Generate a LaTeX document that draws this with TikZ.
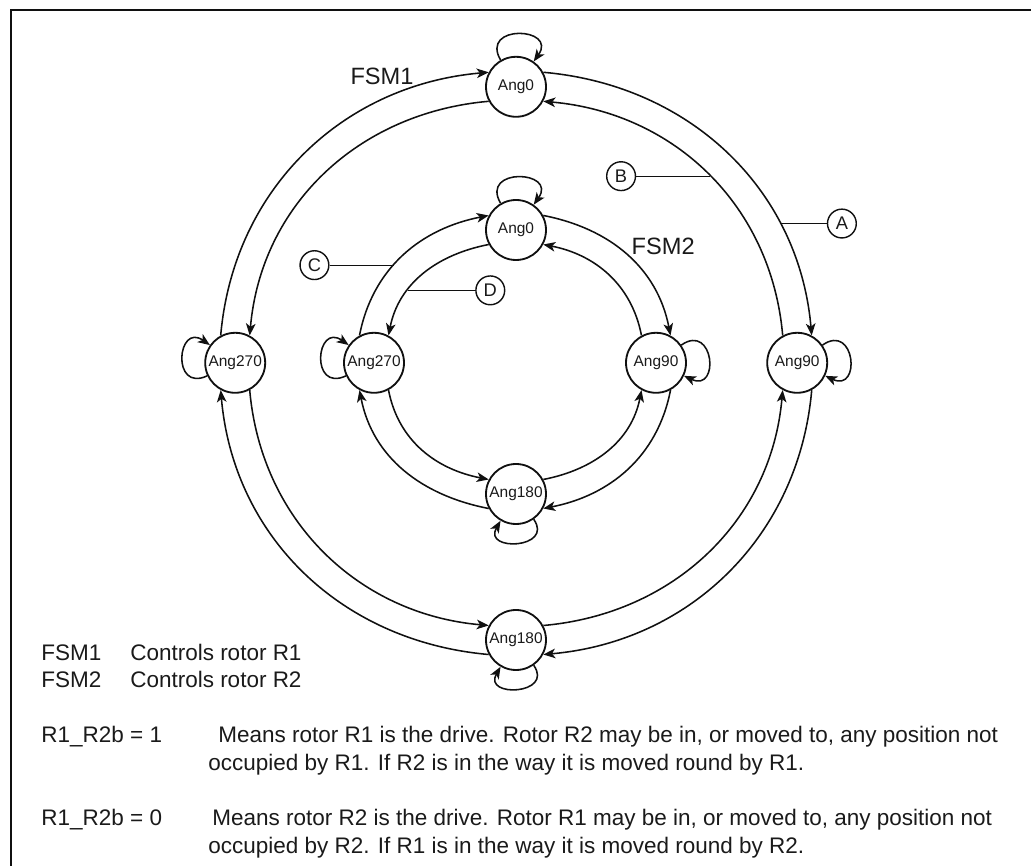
\documentclass[tikz,border=0pt]{standalone}
\usepackage{fontspec}
\setmainfont{Liberation Sans}
\usepackage{tikz}
\usetikzlibrary{arrows.meta, positioning}
\definecolor{fsmInk}{HTML}{101010}
\definecolor{fsmText}{HTML}{1A1A1A}

\begin{document}
\begin{tikzpicture}[
    state/.style={circle, draw=fsmInk, line width=1.3pt, fill=white, minimum size=1.5cm, inner sep=0pt, font=\fontsize{11}{12}\selectfont, text=fsmText},
    trans/.style={-{Stealth[length=3mm, width=2.4mm, inset=0.8mm]}, line width=1.1pt, draw=fsmInk},
    tag/.style={circle, draw=fsmInk, line width=1pt, fill=white, minimum size=0.72cm, inner sep=0pt, font=\fontsize{13}{14}\selectfont, text=fsmText},
    tagline/.style={line width=0.9pt, draw=fsmInk},
    fsmlabel/.style={font=\fontsize{16.8}{19}\selectfont, text=fsmText},
    note/.style={font=\fontsize{16}{19}\selectfont, text=fsmText, inner sep=0pt, anchor=base west}
]
    \useasboundingbox (0,0) rectangle (25.775,21.65);
    \draw[line width=2pt, draw=fsmInk] (0.275,0) -- (0.275,21.40) -- (25.775,21.40);

    \node[state] (o0) at (12.90,19.48) {Ang0};
    \node[state] (o90) at (19.93,12.58) {Ang90};
    \node[state] (o180) at (12.90,5.65) {Ang180};
    \node[state] (o270) at (5.88,12.58) {Ang270};

    \node[state] (i0) at (12.90,15.90) {Ang0};
    \node[state] (i90) at (16.40,12.58) {Ang90};
    \node[state] (i180) at (12.90,9.30) {Ang180};
    \node[state] (i270) at (9.35,12.58) {Ang270};

    \node[fsmlabel] (fsm1) at (9.55,19.73) {FSM1};
    \node[fsmlabel] (fsm2) at (16.58,15.48) {FSM2};

    \draw[trans] (o0.28) to[out=-5, in=95] node[coordinate, pos=0.72] (onA) {} (o90.62);
    \draw[trans] (o90.298) to[out=-95, in=5] (o180.332);
    \draw[trans] (o180.208) to[out=175, in=-85] (o270.242);
    \draw[trans] (o270.118) to[out=85, in=185] (o0.152);
    \draw[trans] (o90.118) to[out=95, in=-5] node[coordinate, pos=0.49] (onB) {} (o0.332);
    \draw[trans] (o180.28) to[out=5, in=-95] (o90.242);
    \draw[trans] (o270.298) to[out=-85, in=175] (o180.152);
    \draw[trans] (o0.208) to[out=185, in=85] (o270.62);

    \draw[trans] (i0.28) to[out=-11, in=101] (i90.62);
    \draw[trans] (i90.298) to[out=-101, in=11] (i180.332);
    \draw[trans] (i180.208) to[out=169, in=-79] (i270.242);
    \draw[trans] (i270.118) to[out=79, in=191] node[coordinate, pos=0.42] (onC) {} (i0.152);
    \draw[trans] (i90.118) to[out=101, in=-11] (i0.332);
    \draw[trans] (i180.28) to[out=11, in=-101] (i90.242);
    \draw[trans] (i270.298) to[out=-79, in=169] (i180.152);
    \draw[trans] (i0.208) to[out=191, in=79] node[coordinate, pos=0.66] (onD) {} (i270.62);

    \draw[trans] (o0) to[out=120, in=55, distance=1.05cm] (o0);
    \draw[trans] (o90) to[out=35, in=-25, distance=1cm] (o90);
    \draw[trans] (o180) to[out=-55, in=-120, distance=0.9cm] (o180);
    \draw[trans] (o270) to[out=205, in=145, distance=1cm] (o270);
    \draw[trans] (i0) to[out=120, in=55, distance=1.05cm] (i0);
    \draw[trans] (i90) to[out=35, in=-25, distance=1cm] (i90);
    \draw[trans] (i180) to[out=-55, in=-120, distance=0.9cm] (i180);
    \draw[trans] (i270) to[out=205, in=145, distance=1cm] (i270);

    \node[tag, right=1.18cm of onA] (A) {A};
    \node[tag, left=1.85cm of onB] (B) {B};
    \node[tag, left=1.6cm of onC] (C) {C};
    \node[tag, right=1.68cm of onD] (D) {D};
    \draw[tagline] (onA) -- (A);
    \draw[tagline] (onB) -- (B);
    \draw[tagline] (onC) -- (C);
    \draw[tagline] (onD) -- (D);

    \node[note] (key1) at (1.03,5.13) {FSM1};
    \node[note] (key1text) at (3.25,5.13) {Controls rotor R1};
    \node[note] (key2) at (1.03,4.45) {FSM2};
    \node[note] (key2text) at (3.25,4.45) {Controls rotor R2};

    \node[note] (drive1) at (1.03,3.08) {R1\_R2b = 1};
    \node[note] (drive1a) at (5.45,3.08) {Means rotor R1 is the drive. Rotor R2 may be in, or moved to, any position not};
    \node[note] (drive1b) at (5.20,2.38) {occupied by R1. If R2 is in the way it is moved round by R1.};
    \node[note] (drive0) at (1.03,1.00) {R1\_R2b = 0};
    \node[note] (drive0a) at (5.30,1.00) {Means rotor R2 is the drive. Rotor R1 may be in, or moved to, any position not};
    \node[note] (drive0b) at (5.20,0.30) {occupied by R2. If R1 is in the way it is moved round by R2.};
\end{tikzpicture}
\end{document}
